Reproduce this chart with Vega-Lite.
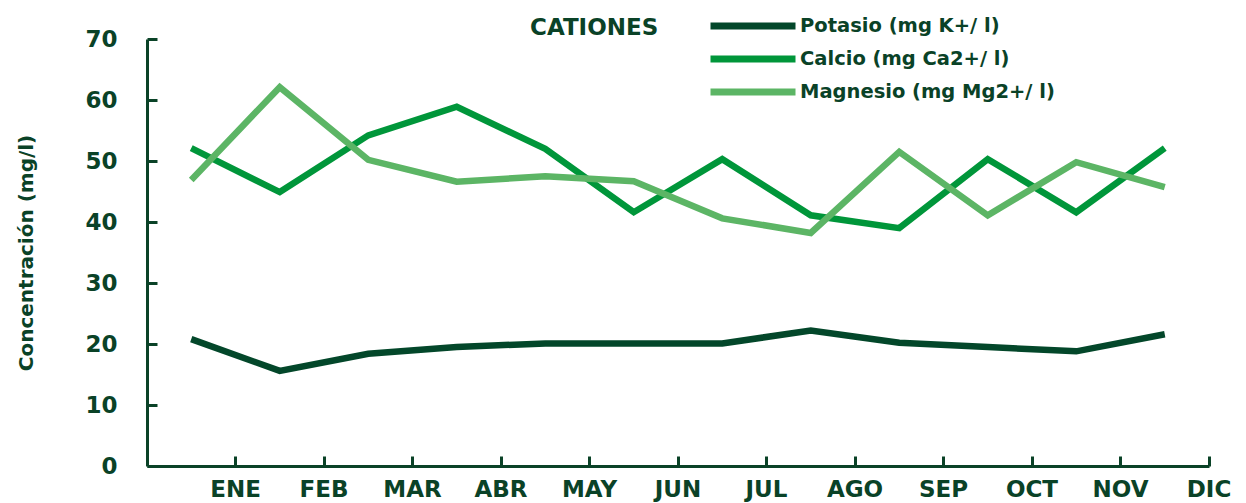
{
  "$schema": "https://vega.github.io/schema/vega-lite/v6.json",
  "width": 1062,
  "height": 427,
  "autosize": {"type": "none"},
  "padding": {"left": 147, "top": 39, "right": 37, "bottom": 37},
  "background": "white",
  "config": {"view": {"stroke": null}, "font": "DejaVu Sans"},
  "data": {
    "values": [
      {"mes": "ENE", "serie": "Potasio (mg K+/ l)", "valor": 20.8},
      {"mes": "FEB", "serie": "Potasio (mg K+/ l)", "valor": 15.6},
      {"mes": "MAR", "serie": "Potasio (mg K+/ l)", "valor": 18.4},
      {"mes": "ABR", "serie": "Potasio (mg K+/ l)", "valor": 19.5},
      {"mes": "MAY", "serie": "Potasio (mg K+/ l)", "valor": 20.1},
      {"mes": "JUN", "serie": "Potasio (mg K+/ l)", "valor": 20.1},
      {"mes": "JUL", "serie": "Potasio (mg K+/ l)", "valor": 20.1},
      {"mes": "AGO", "serie": "Potasio (mg K+/ l)", "valor": 22.2},
      {"mes": "SEP", "serie": "Potasio (mg K+/ l)", "valor": 20.2},
      {"mes": "OCT", "serie": "Potasio (mg K+/ l)", "valor": 19.5},
      {"mes": "NOV", "serie": "Potasio (mg K+/ l)", "valor": 18.8},
      {"mes": "DIC", "serie": "Potasio (mg K+/ l)", "valor": 21.6},
      {"mes": "ENE", "serie": "Calcio (mg Ca2+/ l)", "valor": 52.1},
      {"mes": "FEB", "serie": "Calcio (mg Ca2+/ l)", "valor": 44.9},
      {"mes": "MAR", "serie": "Calcio (mg Ca2+/ l)", "valor": 54.2},
      {"mes": "ABR", "serie": "Calcio (mg Ca2+/ l)", "valor": 58.9},
      {"mes": "MAY", "serie": "Calcio (mg Ca2+/ l)", "valor": 52.0},
      {"mes": "JUN", "serie": "Calcio (mg Ca2+/ l)", "valor": 41.6},
      {"mes": "JUL", "serie": "Calcio (mg Ca2+/ l)", "valor": 50.3},
      {"mes": "AGO", "serie": "Calcio (mg Ca2+/ l)", "valor": 41.1},
      {"mes": "SEP", "serie": "Calcio (mg Ca2+/ l)", "valor": 39.0},
      {"mes": "OCT", "serie": "Calcio (mg Ca2+/ l)", "valor": 50.3},
      {"mes": "NOV", "serie": "Calcio (mg Ca2+/ l)", "valor": 41.6},
      {"mes": "DIC", "serie": "Calcio (mg Ca2+/ l)", "valor": 52.1},
      {"mes": "ENE", "serie": "Magnesio (mg Mg2+/ l)", "valor": 46.9},
      {"mes": "FEB", "serie": "Magnesio (mg Mg2+/ l)", "valor": 62.1},
      {"mes": "MAR", "serie": "Magnesio (mg Mg2+/ l)", "valor": 50.2},
      {"mes": "ABR", "serie": "Magnesio (mg Mg2+/ l)", "valor": 46.6},
      {"mes": "MAY", "serie": "Magnesio (mg Mg2+/ l)", "valor": 47.5},
      {"mes": "JUN", "serie": "Magnesio (mg Mg2+/ l)", "valor": 46.7},
      {"mes": "JUL", "serie": "Magnesio (mg Mg2+/ l)", "valor": 40.6},
      {"mes": "AGO", "serie": "Magnesio (mg Mg2+/ l)", "valor": 38.2},
      {"mes": "SEP", "serie": "Magnesio (mg Mg2+/ l)", "valor": 51.5},
      {"mes": "OCT", "serie": "Magnesio (mg Mg2+/ l)", "valor": 41.1},
      {"mes": "NOV", "serie": "Magnesio (mg Mg2+/ l)", "valor": 49.8},
      {"mes": "DIC", "serie": "Magnesio (mg Mg2+/ l)", "valor": 45.7}
    ]
  },
  "mark": {"type": "line", "strokeWidth": 6.5, "strokeJoin": "miter", "strokeCap": "butt"},
  "encoding": {
    "x": {
      "field": "mes",
      "type": "ordinal",
      "sort": null,
      "bandPosition": 0.5,
      "scale": {
        "type": "band",
        "domain": ["ENE", "FEB", "MAR", "ABR", "MAY", "JUN", "JUL", "AGO", "SEP", "OCT", "NOV", "DIC"],
        "paddingInner": 0,
        "paddingOuter": 0
      },
      "axis": {
        "title": null,
        "bandPosition": 1,
        "labelAngle": 0,
        "labelOffset": 44.25,
        "domainColor": "#0a4227",
        "domainWidth": 3,
        "tickColor": "#0a4227",
        "tickWidth": 3,
        "tickSize": -10,
        "labelFont": "DejaVu Sans",
        "labelFontWeight": "bold",
        "labelFontSize": 23,
        "labelColor": "#0a4227",
        "labelPadding": 22,
        "labelBaseline": "top"
      }
    },
    "y": {
      "field": "valor",
      "type": "quantitative",
      "scale": {"domain": [0, 70], "nice": false},
      "axis": {
        "values": [0, 10, 20, 30, 40, 50, 60, 70],
        "grid": false,
        "title": "Concentración (mg/l)",
        "titleFont": "DejaVu Sans",
        "titleFontWeight": "bold",
        "titleFontSize": 20,
        "titleColor": "#0a4227",
        "titlePadding": 48,
        "domainColor": "#0a4227",
        "domainWidth": 3,
        "tickColor": "#0a4227",
        "tickWidth": 3,
        "tickSize": -10,
        "labelFont": "DejaVu Sans",
        "labelFontWeight": "bold",
        "labelFontSize": 23,
        "labelColor": "#0a4227",
        "labelPadding": 40
      }
    },
    "color": {
      "field": "serie",
      "type": "nominal",
      "scale": {
        "domain": ["Potasio (mg K+/ l)", "Calcio (mg Ca2+/ l)", "Magnesio (mg Mg2+/ l)"],
        "range": ["#03472a", "#00963a", "#5cb565"]
      },
      "legend": {
        "title": "CATIONES",
        "orient": "none",
        "legendX": 383,
        "legendY": -22,
        "titleOrient": "left",
        "titleAnchor": "start",
        "titleFont": "DejaVu Sans",
        "titleFontWeight": "bold",
        "titleFontSize": 23,
        "titleColor": "#0a4227",
        "titlePadding": 48,
        "titleBaseline": "top",
        "symbolType": "stroke",
        "symbolSize": 7225,
        "symbolStrokeWidth": 7,
        "clipHeight": 18,
        "rowPadding": 13,
        "labelOffset": 1,
        "labelFont": "DejaVu Sans",
        "labelFontWeight": "bold",
        "labelFontSize": 19.5,
        "labelColor": "#0a4227",
        "labelLimit": 400
      }
    }
  }
}
